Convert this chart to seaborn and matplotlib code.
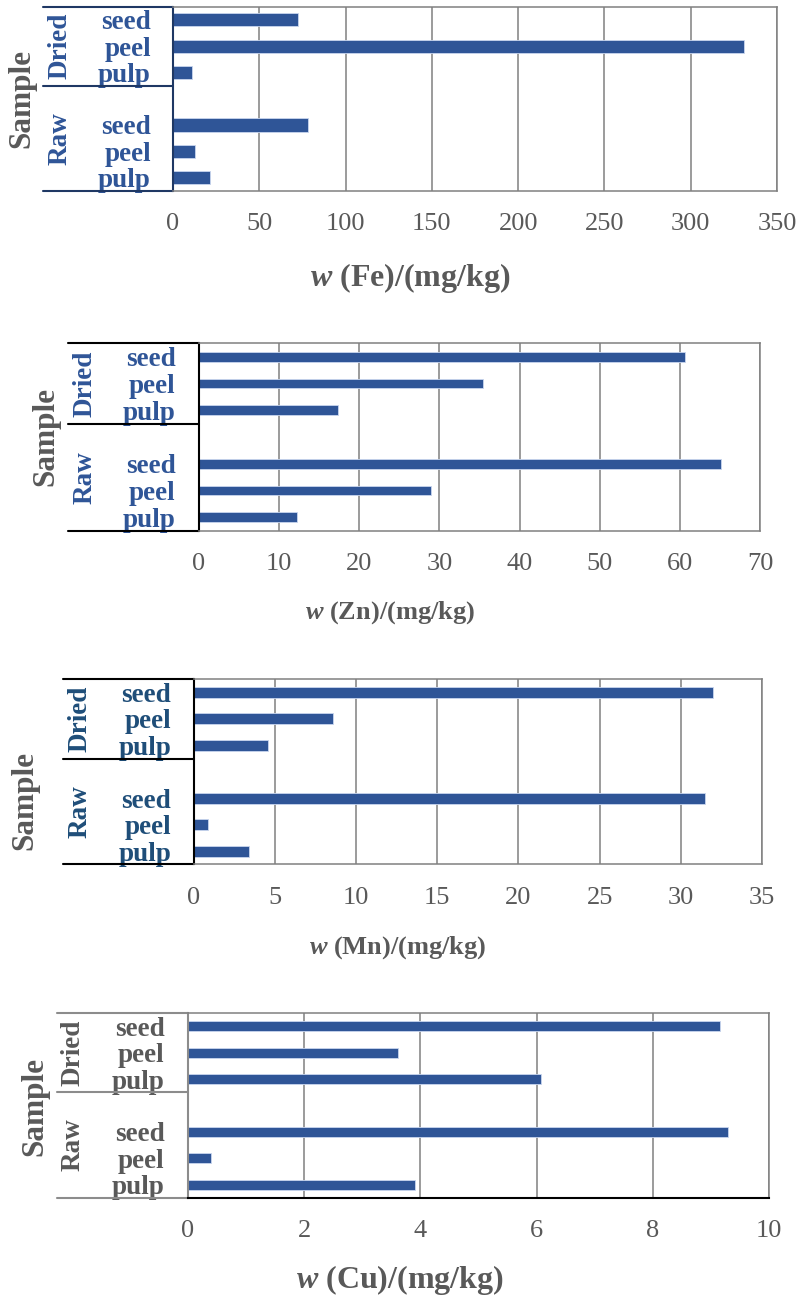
import seaborn as sns
import pandas as pd
import numpy as np
import matplotlib.pyplot as plt
import matplotlib.transforms as mtransforms

# values (mg/kg), order: seed, peel, pulp
parts = ["seed", "peel", "pulp"]
fe_dried = [72.3, 331.0, 11.1]
fe_raw = [78.0, 12.6, 21.6]
zn_dried = [60.7, 35.4, 17.4]
zn_raw = [65.1, 29.0, 12.2]
mn_dried = [32.0, 8.6, 4.6]
mn_raw = [31.5, 0.9, 3.4]
cu_dried = [9.16, 3.62, 6.08]
cu_raw = [9.29, 0.40, 3.90]

elements = ["Fe", "Zn", "Mn", "Cu"]
dried = [fe_dried, zn_dried, mn_dried, cu_dried]
raw = [fe_raw, zn_raw, mn_raw, cu_raw]
xmax = [350, 70, 35, 10]
xstep = [50, 10, 5, 2]

# slots from top: Dried seed/peel/pulp, empty slot, Raw seed/peel/pulp
order = ["Dried seed", "Dried peel", "Dried pulp", "gap",
         "Raw seed", "Raw peel", "Raw pulp"]
ytick_labels = ["seed", "peel", "pulp", "", "seed", "peel", "pulp"]

rows = []
for el, d, r in zip(elements, dried, raw):
    for p, v in zip(parts, d):
        rows.append({"element": el, "key": "Dried " + p, "value": v})
    for p, v in zip(parts, r):
        rows.append({"element": el, "key": "Raw " + p, "value": v})
df = pd.DataFrame(rows)

sns.set_style("white")
plt.rcParams["font.family"] = ["Liberation Serif", "DejaVu Serif"]
plt.rcParams["mathtext.fontset"] = "custom"
plt.rcParams["mathtext.it"] = "Liberation Serif:italic:bold"
plt.rcParams["mathtext.rm"] = "Liberation Serif:bold"

BAR = "#2F5597"
GREY = "#595959"
GRID = "#808080"

W, H = 800, 1304
fig = plt.figure(figsize=(8, 13.04), dpi=100)

# per panel layout in pixels: left, right, top, bottom of the plot area
boxes = [(173, 777, 6.7, 190.7), (199, 760, 343.3, 530.7),
         (193.5, 762, 679.3, 864.3), (188, 769, 1013.3, 1197.7)]
bar_w = [0.5, 0.36, 0.42, 0.38]
label_col = ["#2F5597", "#2F5597", "#1F4E79", GREY]
line_col = ["#1F3864", "black", "black", "#8c8c8c"]
group_left = [43, 68, 63, 57]
group_x = [60, 85, 80, 73]
ypad = [16, 17, 16, 17]
sample_xy = [(22, 98), (46, 437), (25, 800), (35, 1106)]
xlabel_xy = [(410, 278), (390, 613), (398, 948), (400, 1280)]
xlabel_size = [23, 19, 19, 23]

for i, el in enumerate(elements):
    l, r, t, b = boxes[i]
    ax = fig.add_axes([l / W, 1 - b / H, (r - l) / W, (b - t) / H])
    sub = df[df["element"] == el]
    sns.barplot(data=sub, x="value", y="key", order=order, color=BAR,
                width=bar_w[i], edgecolor="#c9d6ee", linewidth=0.6,
                saturation=1, ax=ax)
    ax.set_xlim(0, xmax[i])
    ax.set_xticks(np.arange(0, xmax[i] + xstep[i], xstep[i]))
    ax.set_ylim(6.5, -0.5)
    ax.set_yticks(range(7))
    ax.set_yticklabels(ytick_labels, fontsize=19.5, fontweight="bold",
                       color=label_col[i])
    ax.set_xlabel("")
    ax.set_ylabel("")
    ax.grid(axis="x", color=GRID, lw=1.1)
    ax.set_axisbelow(True)
    ax.tick_params(axis="x", length=0, pad=16, labelsize=19, labelcolor=GREY)
    ax.tick_params(axis="y", length=0, pad=ypad[i])
    for s in ["top", "right", "bottom"]:
        ax.spines[s].set_color(GRID)
        ax.spines[s].set_linewidth(1.1)
    ax.spines["left"].set_color(line_col[i])
    ax.spines["left"].set_linewidth(1.5)
    if i == 3:
        ax.spines["bottom"].set_color("black")
        ax.spines["bottom"].set_linewidth(1.5)

    # multi-level category frame on the left
    trans = mtransforms.blended_transform_factory(fig.transFigure, ax.transData)
    for yy in [-0.5, 2.5, 6.5]:
        ax.plot([group_left[i] / W, l / W], [yy, yy], transform=trans,
                clip_on=False, color=line_col[i], lw=1.5)
    ax.text(group_x[i] / W, 1, "Dried", transform=trans, rotation=90,
            ha="center", va="center", fontsize=19.5, fontweight="bold",
            color=label_col[i])
    ax.text(group_x[i] / W, 4.5, "Raw", transform=trans, rotation=90,
            ha="center", va="center", fontsize=19.5, fontweight="bold",
            color=label_col[i])

    sx, sy = sample_xy[i]
    fig.text(sx / W, 1 - sy / H, "Sample", rotation=90, ha="center",
             va="center", fontsize=22.5, fontweight="bold", color=GREY)
    lx, ly = xlabel_xy[i]
    fig.text(lx / W, 1 - ly / H, "$w$ (" + el + ")/(mg/kg)", ha="center",
             va="center", fontsize=xlabel_size[i], fontweight="bold",
             color=GREY)

fig.savefig("out.png", dpi=100)
